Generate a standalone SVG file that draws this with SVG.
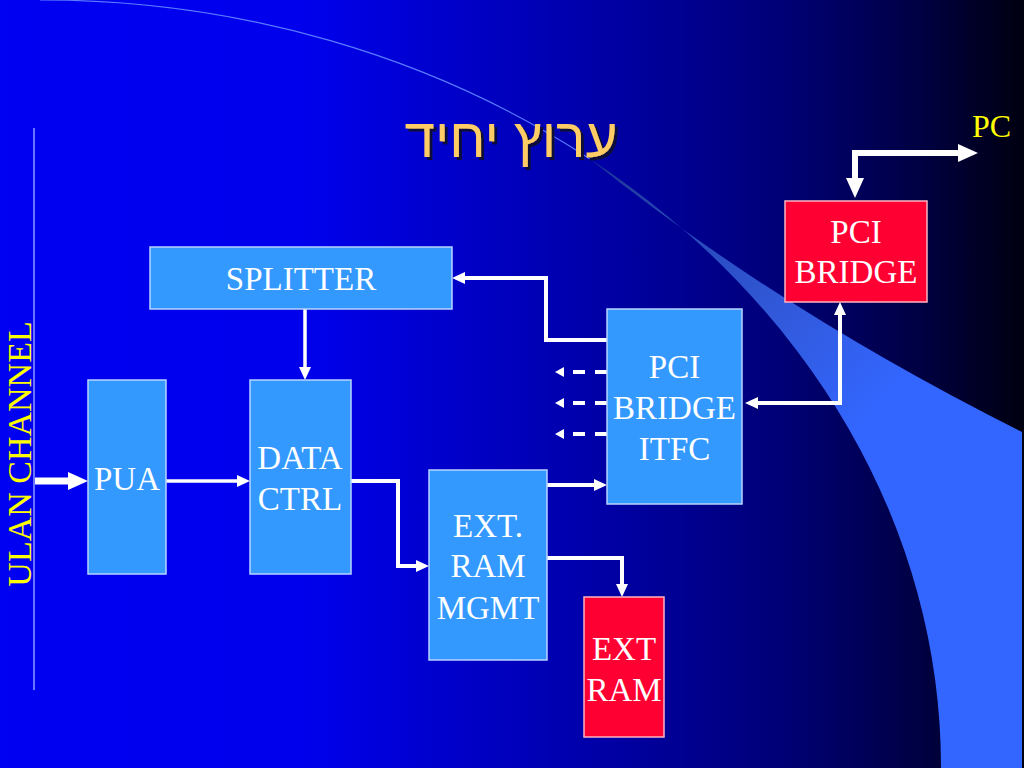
<svg xmlns="http://www.w3.org/2000/svg" width="1024" height="768" viewBox="0 0 1024 768">
  <defs>
    <linearGradient id="bg" x1="0" y1="0" x2="1" y2="0">
      <stop offset="0" stop-color="#0000F2"/>
      <stop offset="0.3" stop-color="#0000EC"/>
      <stop offset="0.55" stop-color="#0000B0"/>
      <stop offset="0.76" stop-color="#000078"/>
      <stop offset="0.9" stop-color="#000042"/>
      <stop offset="1" stop-color="#000010"/>
    </linearGradient>
    <linearGradient id="sw" gradientUnits="userSpaceOnUse" x1="600" y1="170" x2="870" y2="420">
      <stop offset="0" stop-color="#1f3a9a"/>
      <stop offset="0.6" stop-color="#3158d8"/>
      <stop offset="1" stop-color="#3366FF"/>
    </linearGradient>
    <filter id="shadow" x="-10%" y="-20%" width="120%" height="150%">
      <feOffset in="SourceAlpha" dx="3" dy="3" result="off"/>
      <feFlood flood-color="#10103a"/>
      <feComposite in2="off" operator="in" result="sh"/>
      <feMerge><feMergeNode in="sh"/><feMergeNode in="SourceGraphic"/></feMerge>
    </filter>
    <marker id="ah" markerUnits="userSpaceOnUse" markerWidth="14" markerHeight="13" refX="5" refY="6" orient="auto-start-reverse">
      <path d="M0,0 L13,6 L0,12 Z" fill="#fff"/>
    </marker>
    <marker id="ahs" markerUnits="userSpaceOnUse" markerWidth="10" markerHeight="11" refX="1" refY="5" orient="auto">
      <path d="M0,0 L9,5 L0,10 Z" fill="#fff"/>
    </marker>
    <marker id="aht" markerUnits="userSpaceOnUse" markerWidth="21" markerHeight="19" refX="8" refY="9" orient="auto-start-reverse">
      <path d="M0,0 L20,9 L0,18 Z" fill="#fff"/>
    </marker>
  </defs>
  <style>
    .blk { fill: #3399FF; stroke: #b8d4ff; stroke-width: 1.5; }
    .red { fill: #FF0033; stroke: #ffb3c0; stroke-width: 1.5; }
    .lbl { font-family: "Liberation Serif", "Times New Roman", serif; font-size: 33px; fill: #ffffff; text-anchor: middle; }
    .yel { font-family: "Liberation Serif", "Times New Roman", serif; fill: #FFFF00; }
    .ln { fill: none; stroke: #ffffff; stroke-width: 4; marker-end: url(#ah); }
    .dash { fill: none; stroke: #ffffff; stroke-width: 4; stroke-dasharray: 12 10; marker-end: url(#ahs); }
    .thick { fill: none; stroke: #ffffff; stroke-width: 7; marker-end: url(#aht); }
  </style>

  <!-- background -->
  <rect x="0" y="0" width="1024" height="768" fill="url(#bg)"/>
  <path d="M590,159 Q780,311 1022,432 L1022,768 L941,768 A901,768 0 0 0 590,159 Z" fill="url(#sw)"/>
  <path d="M40,0 A901,768 0 0 1 590,159" fill="none" stroke="#5a7cff" stroke-width="1.2"/>
  <line x1="34" y1="128" x2="34" y2="690" stroke="#8a9cff" stroke-width="1.5"/>

  <!-- title -->
  <g id="title">
    <text x="511" y="157" font-family="Liberation Sans, Arimo, DejaVu Sans, sans-serif" font-size="55" fill="#FFCC66" text-anchor="middle" filter="url(#shadow)">ערוץ יחיד</text>
  </g>

  <g id="ulan-channel">
    <text class="yel" font-size="34" text-anchor="middle" transform="translate(31,454) rotate(-90)">ULAN CHANNEL</text>
  </g>

  <g id="pc">
    <text class="yel" font-size="32" x="972" y="137">PC</text>
  </g>

  <!-- connectors -->
  <g id="connectors">
    <path class="thick" d="M35,481 H76"/>
    <path class="ln" style="stroke-width:3.5" d="M166,481 H242"/>
    <path class="ln" style="stroke-width:3.5" d="M305,309 V372"/>
    <path class="ln" d="M351,481 H398 V566 H421"/>
    <path class="ln" d="M547,485 H599"/>
    <path class="ln" d="M547,558 H622 V589"/>
    <path class="ln" d="M607,340 H546 V278 H460"/>
    <path class="dash" d="M607,372 H563"/>
    <path class="dash" d="M607,403 H563"/>
    <path class="dash" d="M607,434 H563"/>
    <path class="ln" style="marker-start:url(#ah)" d="M753,403 H840 V310"/>
    <path class="thick" style="stroke-width:6;marker-start:url(#aht)" d="M855,186 V153 H966"/>
  </g>

  <!-- nodes -->
  <g id="splitter">
    <rect class="blk" x="150" y="247" width="302" height="62"/>
    <text class="lbl" x="301" y="290">SPLITTER</text>
  </g>
  <g id="pua">
    <rect class="blk" x="88" y="380" width="78" height="194"/>
    <text class="lbl" x="127" y="490">PUA</text>
  </g>
  <g id="data-ctrl">
    <rect class="blk" x="250" y="380" width="101" height="194"/>
    <text class="lbl" x="300" y="469">DATA</text>
    <text class="lbl" x="300" y="510">CTRL</text>
  </g>
  <g id="ext-ram-mgmt">
    <rect class="blk" x="429" y="470" width="118" height="190"/>
    <text class="lbl" x="488" y="537">EXT.</text>
    <text class="lbl" x="488" y="577">RAM</text>
    <text class="lbl" x="488" y="619">MGMT</text>
  </g>
  <g id="pci-bridge-itfc">
    <rect class="blk" x="607" y="309" width="135" height="195"/>
    <text class="lbl" x="674.5" y="378">PCI</text>
    <text class="lbl" x="674.5" y="419">BRIDGE</text>
    <text class="lbl" x="674.5" y="460">ITFC</text>
  </g>
  <g id="pci-bridge">
    <rect class="red" x="785" y="201" width="142" height="101"/>
    <text class="lbl" x="856" y="243">PCI</text>
    <text class="lbl" x="856" y="283">BRIDGE</text>
  </g>
  <g id="ext-ram">
    <rect class="red" x="584" y="597" width="80" height="140"/>
    <text class="lbl" x="624" y="660">EXT</text>
    <text class="lbl" x="624" y="701">RAM</text>
  </g>
</svg>
